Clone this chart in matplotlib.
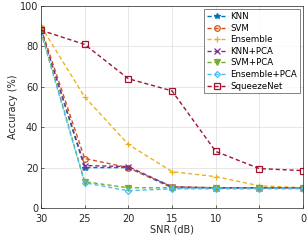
import matplotlib
matplotlib.use("Agg")
import matplotlib.pyplot as plt

snr = [30, 25, 20, 15, 10, 5, 0]
knn = [88, 20, 20, 10, 10, 10, 10]
svm = [89, 24.5, 20, 10.5, 10, 10, 10]
ensemble = [90, 55, 31.5, 18, 15.5, 11, 10]
knn_pca = [88, 21, 20.5, 10.5, 10, 10, 10]
svm_pca = [88, 13, 10, 10, 10, 10, 10]
ens_pca = [87, 12.5, 8.5, 9.5, 9.5, 9.5, 9.5]
squeeze = [88, 81, 64, 58, 28, 19.5, 18.5]

labels = ["KNN", "SVM", "Ensemble", "KNN+PCA", "SVM+PCA", "Ensemble+PCA", "SqueezeNet"]
series = [knn, svm, ensemble, knn_pca, svm_pca, ens_pca, squeeze]
colors = ["#0072BD", "#D95319", "#EDB120", "#7E2F8E", "#77AC30", "#4DBEEE", "#A2142F"]
markers = ["*", "o", "+", "x", "v", "D", "s"]

plt.rcParams["font.family"] = "DejaVu Sans"
fig = plt.figure(figsize=(3.08, 2.41), dpi=100)
ax = fig.add_axes([0.133, 0.137, 0.851, 0.838])
for y, lab, c, m in zip(series, labels, colors, markers):
    ms = 4 if m != "D" else 3
    mfc = c if m in ("*", "v") else "none"
    ax.plot(snr, y, linestyle="--", color=c, marker=m, markersize=ms, lw=1.0,
            markerfacecolor=mfc, markeredgewidth=0.9, label=lab, dashes=(3, 2))
ax.set_xlim(30, 0)
ax.set_ylim(0, 100)
ax.set_xticks([30, 25, 20, 15, 10, 5, 0])
ax.set_yticks([0, 20, 40, 60, 80, 100])
ax.tick_params(labelsize=7, length=2, width=0.5, direction="in", colors="#262626")
ax.tick_params(axis="x", pad=4)
ax.tick_params(axis="y", pad=2)
ax.grid(True, color="#dddddd", lw=0.5)
ax.set_axisbelow(True)
for s in ax.spines.values():
    s.set_linewidth(0.5)
    s.set_color("#262626")
ax.set_xlabel("SNR (dB)", fontsize=7, labelpad=1, color="#262626")
ax.set_ylabel("Accuracy (%)", fontsize=7, labelpad=1, color="#262626")
leg = ax.legend(loc="upper right", fontsize=6.2, frameon=True, fancybox=False,
                edgecolor="#262626", handlelength=2.4, handletextpad=0.3,
                labelspacing=0.3, borderpad=0.3, borderaxespad=0.4)
leg.get_frame().set_linewidth(0.5)
fig.savefig("out.png", dpi=100)
